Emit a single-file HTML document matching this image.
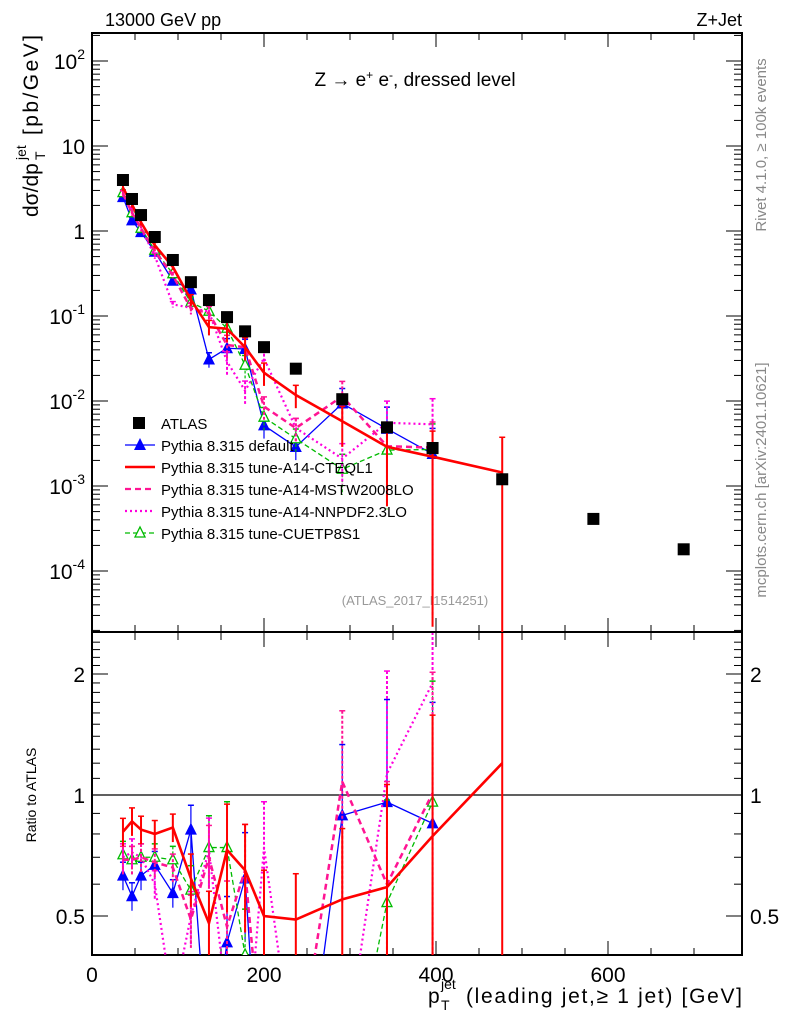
<!DOCTYPE html>
<html><head><meta charset="utf-8"><style>
html,body{margin:0;padding:0;background:#fff;overflow:hidden}
svg{display:block;font-family:"Liberation Sans",sans-serif}
</style></head><body>
<svg id="c" width="786" height="1024" viewBox="0 0 786 1024" xmlns="http://www.w3.org/2000/svg">
<defs>
<clipPath id="cm"><rect x="92" y="33" width="650" height="599"/></clipPath>
<clipPath id="cr"><rect x="92" y="633" width="650" height="322"/></clipPath>
</defs>
<text x="105" y="26" font-size="18">13000 GeV pp</text>
<text x="742" y="26" font-size="18" text-anchor="end">Z+Jet</text>
<text x="415" y="86" font-size="19" text-anchor="middle">Z → e<tspan baseline-shift="super" font-size="12">+</tspan> e<tspan baseline-shift="super" font-size="12">-</tspan>, dressed level</text>
<text x="415" y="605" font-size="13" fill="#999" text-anchor="middle">(ATLAS_2017_I1514251)</text>
<text transform="translate(766,145) rotate(-90)" font-size="15" fill="#888" text-anchor="middle">Rivet 4.1.0, ≥ 100k events</text>
<text transform="translate(766,480) rotate(-90)" font-size="15" fill="#888" text-anchor="middle">mcplots.cern.ch [arXiv:2401.10621]</text>
<g transform="translate(38,125) rotate(-90)" font-size="21">
<text x="-92" y="0">dσ/dp</text><text x="-35" y="7" font-size="14">T</text><text x="-35" y="-12" font-size="14">jet</text><text x="-10" y="0" textLength="100">[pb/GeV]</text>
</g>
<text transform="translate(36,795) rotate(-90)" font-size="14" text-anchor="middle">Ratio to ATLAS</text>
<g font-size="21">
<text x="428" y="1003">p</text><text x="441" y="1010" font-size="14">T</text><text x="441" y="989" font-size="14">jet</text><text x="742" y="1003" text-anchor="end" textLength="276">(leading jet,≥ 1 jet) [GeV]</text>
</g>
<g id="g"></g>
</svg>
<script>
const xVals=[36,46.5,57,73,94,115,136,157,178,200,237,291,343,396,477,583,688];
const atlas=[3.98,2.38,1.54,0.85,0.456,0.25,0.154,0.097,0.066,0.043,0.024,0.0105,0.0049,0.0028,0.0012,0.00041,0.00018];
const rDefault=[0.63,0.56,0.63,0.67,0.57,0.82,0.2,0.43,0.62,0.12,0.12,0.89,0.96,0.85];
const rCTEQ=[0.81,0.86,0.82,0.80,0.83,0.62,0.48,0.73,0.65,0.50,0.49,0.55,0.59,0.79,1.2];
const rMSTW=[0.69,0.69,0.70,0.68,0.66,0.49,0.70,0.47,0.65,0.2,0.2,1.08,0.60,1.01];
const rNNPDF=[0.70,0.72,0.70,0.60,0.3,0.50,0.73,0.3,0.2,0.74,0.2,0.2,1.13,1.9];
const rCUET=[0.71,0.69,0.70,0.70,0.69,0.58,0.74,0.74,0.40,0.15,0.15,0.15,0.54,0.96];
const errBig=[0.08,0.08,0.08,0.08,0.08,0.15,0.2,0.3,0.3,0.3,0.3,0.5,0.8,1.0,1.6];
const xTicks=[0,200,400,600];
const yTicks=[-4,-3,-2,-1,0,1,2];
const yTickLabels=["10^-4","10^-3","10^-2","10^-1","1","10","10^2"];
const rTicks=[0.5,1,2];
const rTickLabels=["0.5","1","2"];
const NS="http://www.w3.org/2000/svg";
const g=document.getElementById('g');
const RB=955;
const X=v=>92+v*0.86;
const Y=v=>231-85*Math.log10(Math.max(v,1e-6));
const R=v=>795-121*Math.log2(Math.max(v,0.05));
function mk(t,a,p){const e=document.createElementNS(NS,t);for(const k in a)e.setAttribute(k,a[k]);(p||g).appendChild(e);return e;}
let f=mk('rect',{x:92,y:33,width:650,height:599,fill:'none',stroke:'#000','stroke-width':2});


f=mk('rect',{x:92,y:632,width:650,height:RB-632,fill:'none',stroke:'#000','stroke-width':2});


let l=mk('line',{x1:92,x2:742,y1:R(1),y2:R(1),stroke:'#000','stroke-width':1.2});


for(let v=0;v<=740;v+=50){const big=v%200===0;
 for(const [yb,dir] of [[632,-1],[RB,-1],[33,1],[633,1]]){mk('line',{x1:X(v),x2:X(v),y1:yb,y2:yb+dir*(big?14:7),stroke:'#000','stroke-width':1});}}
xTicks.forEach(v=>{const t=mk('text',{x:X(v),y:982,'font-size':21,'text-anchor':'middle'});t.textContent=v;
 
 });
for(let d=-5;d<=2;d++){for(let m=1;m<10;m++){const v=m*Math.pow(10,d);const y=Y(v);if(y<33||y>632)continue;const len=m===1?16:8;
 mk('line',{x1:92,x2:92+len,y1:y,y2:y,stroke:'#000'});mk('line',{x1:742,x2:742-len,y1:y,y2:y,stroke:'#000'});}}
yTicks.forEach((d,i)=>{const s=yTickLabels[i];const t=mk('text',{x:85,y:Y(Math.pow(10,d))+8,'font-size':21,'text-anchor':'end'});
 if(s.includes('^')){const [b,e]=s.split('^');t.textContent=b;const ts=mk('tspan',{dy:-10,'font-size':14},t);ts.textContent=e;}else t.textContent=s;
 
 });
for(let v=0.4;v<=2.5;v+=0.1){const y=R(v);if(y<633||y>RB)continue;const big=[0.5,1,2].some(a=>Math.abs(a-v)<1e-6);
 mk('line',{x1:92,x2:92+(big?16:8),y1:y,y2:y,stroke:'#000'});mk('line',{x1:742,x2:742-(big?16:8),y1:y,y2:y,stroke:'#000'});}
rTicks.forEach((v,i)=>{for(const [x,a] of [[85,'end'],[750,'start']]){const t=mk('text',{x:x,y:R(v)+8,'font-size':21,'text-anchor':a});t.textContent=rTickLabels[i];
 
 }});
const gm=mk('g',{'clip-path':'url(#cm)'});const gr=mk('g',{'clip-path':'url(#cr)'});
const series=[
 {r:rDefault,c:'#0000ff',w:1.3,d:'',m:'tri',name:'default'},
 {r:rCUET,c:'#00bb00',w:1.3,d:'5,3',m:'otri',name:'cuetp8s1'},
 {r:rNNPDF,c:'#ff00dd',w:2.2,d:'2,3',m:'',name:'nnpdf'},
 {r:rMSTW,c:'#ff1493',w:2.5,d:'6,4',m:'',name:'mstw'},
 {r:rCTEQ,c:'#ff0000',w:2.6,d:'',m:'',name:'cteql1'}];
function marker(p,x,y,c,m){if(m==='tri')mk('path',{d:`M${x-6},${y+5}L${x+6},${y+5}L${x},${y-7}Z`,fill:c},p);
 if(m==='otri')mk('path',{d:`M${x-5},${y+4}L${x+5},${y+4}L${x},${y-6}Z`,fill:'#fff',stroke:c,'stroke-width':1.3},p);}
series.forEach(s=>{
 const pm=s.r.map((r,i)=>[X(xVals[i]),Math.min(Y(atlas[i]*r),640)]);
 const pr=s.r.map((r,i)=>[X(xVals[i]),R(r)]);
 for(const [pts,par,tag] of [[pm,gm,'main'],[pr,gr,'ratio']]){
  const pl=mk('polyline',{points:pts.map(p=>p.join(',')).join(' '),fill:'none',stroke:s.c,'stroke-width':s.w,'stroke-dasharray':s.d},par);
  
  
  s.r.forEach((r,i)=>{const x=X(xVals[i]);const e=errBig[i]||0.3;
   const yc=tag==='main'?Y(atlas[i]*r):R(r);
   const y1=tag==='main'?Y(atlas[i]*r*(1+e)):R(r*(1+e));
   const y2=tag==='main'?Y(atlas[i]*r*Math.max(1-e,0.01)):R(r*Math.max(1-e,0.01));
   mk('line',{x1:x,x2:x,y1:y1,y2:y2,stroke:s.c,'stroke-width':s.w>2?2:1.2,'stroke-dasharray':s.d?'3,2':''},par);
   mk('line',{x1:x-3,x2:x+3,y1:y1,y2:y1,stroke:s.c,'stroke-width':1.5},par);
   marker(par,x,yc,s.c,s.m);});
 }});
atlas.forEach((v,i)=>{const r=mk('rect',{x:X(xVals[i])-6,y:Y(v)-6,width:12,height:12,fill:'#000'},gm);
 
 });
const leg=[['ATLAS','#000','','sq'],['Pythia 8.315 default','#0000ff','','tri'],['Pythia 8.315 tune-A14-CTEQL1','#ff0000','',''],
 ['Pythia 8.315 tune-A14-MSTW2008LO','#ff1493','6,4',''],['Pythia 8.315 tune-A14-NNPDF2.3LO','#ff00dd','2,3',''],['Pythia 8.315 tune-CUETP8S1','#00bb00','5,3','otri']];
leg.forEach((e,i)=>{const y=423+i*22;const gg=mk('g',{});
 
 
 if(e[3]==='sq')mk('rect',{x:133,y:y-6,width:12,height:12,fill:'#000'},gg);
 else mk('line',{x1:125,x2:155,y1:y,y2:y,stroke:e[1],'stroke-width':i===2?2.6:(i>2&&i<5?2.3:1.3),'stroke-dasharray':e[2]},gg);
 marker(gg,140,y,e[1],e[3]);
 const t=mk('text',{x:161,y:y+6,'font-size':15},gg);t.textContent=e[0];});
</script>
</body></html>
